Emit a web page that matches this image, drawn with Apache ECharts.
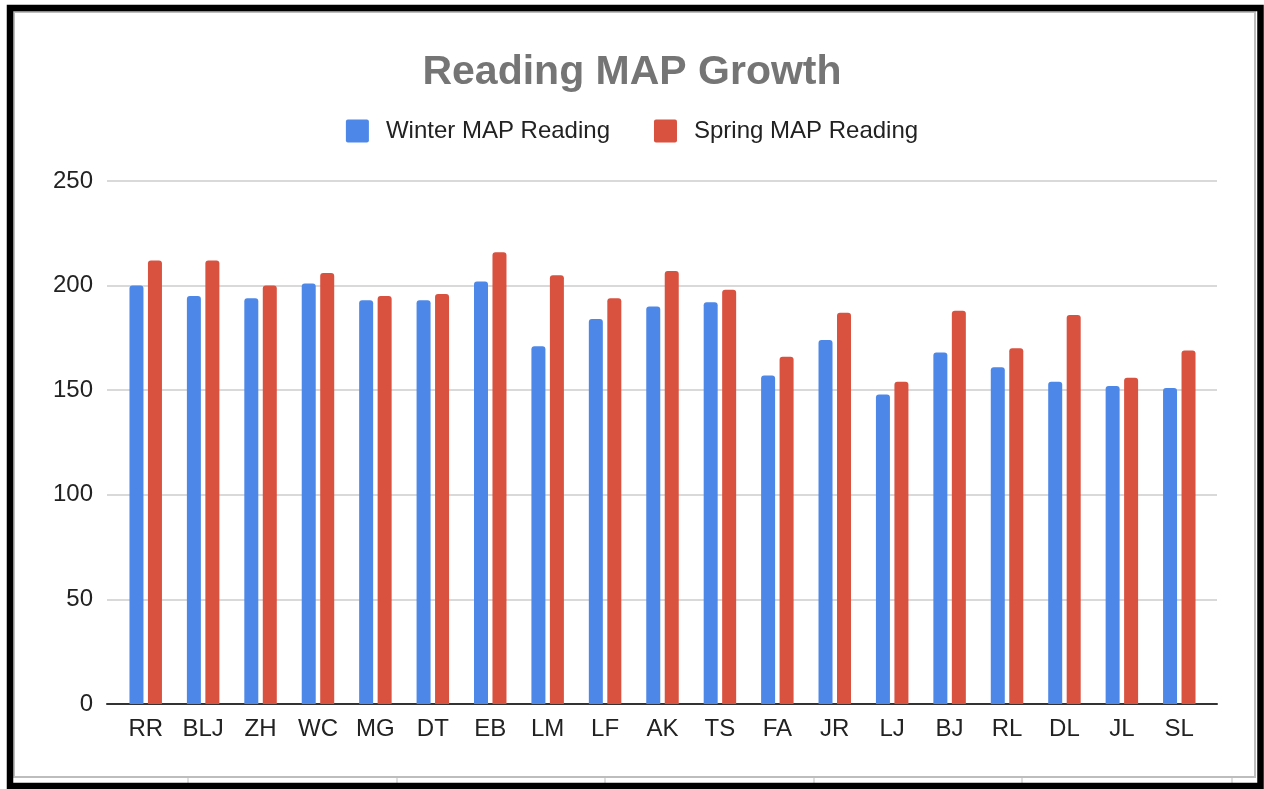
<!DOCTYPE html>
<html>
<head>
<meta charset="utf-8">
<script src="https://cdn.jsdelivr.net/npm/echarts@6/dist/echarts.min.js"></script>
<style>
	html, body { margin: 0; padding: 0; background: #fff; }
	#chart { width: 1264px; height: 789px; }
</style>
</head>
<body>
<div id="chart"></div>
<script>
// student initials along the x axis
const students = ['RR', 'BLJ', 'ZH', 'WC', 'MG', 'DT', 'EB', 'LM', 'LF', 'AK', 'TS', 'FA', 'JR', 'LJ', 'BJ', 'RL', 'DL', 'JL', 'SL']

// scores
const winterScores = [200, 195, 194, 201, 193, 193, 202, 171, 184, 190, 192, 157, 174, 148, 168, 161, 154, 152, 151]
const springScores = [212, 212, 200, 206, 195, 196, 216, 205, 194, 207, 198, 166, 187, 154, 188, 170, 186, 156, 169]

const seriesNames = ['Winter MAP Reading', 'Spring MAP Reading']
const yTicks = [0, 50, 100, 150, 200, 250]

const FONT = 'Arial, "Liberation Sans", sans-serif'

chartMain = () => {
	const chart = echarts.init(document.getElementById('chart'))

	// spreadsheet cell lines peeking out under the chart card
	const cellLines = [188, 397, 605, 814, 1022, 1232].map((x) => ({
		type: 'line',
		shape: { x1: x, y1: 778, x2: x, y2: 784 },
		style: { stroke: '#d4d4d4', lineWidth: 1.5 },
		silent: true,
	}))

	const option = {
		backgroundColor: '#fff',
		animation: false,
		title: {
			text: 'Reading MAP Growth',
			left: 'center',
			top: 47,
			textStyle: {
				fontFamily: FONT,
				fontSize: 41,
				fontWeight: 'bold',
				color: '#757575',
				lineHeight: 42,
			},
		},
		legend: {
			data: seriesNames,
			top: 114,
			left: 'center',
			itemWidth: 23,
			itemHeight: 23,
			itemGap: 44,
			icon: 'path://M2,0 L21,0 Q23,0 23,2 L23,21 Q23,23 21,23 L2,23 Q0,23 0,21 L0,2 Q0,0 2,0 Z',
			textStyle: {
				fontFamily: FONT,
				fontSize: 24,
				color: '#222',
				padding: [0, 0, 0, 12],
			},
		},
		grid: [
			// wide grid: gridlines, y labels and the baseline
			{ left: 107, right: 47, top: 181, bottom: 85 },
			// bar grid, padded a little inside the baseline
			{ left: 117, right: 56, top: 181, bottom: 85 },
		],
		xAxis: [
			{
				gridIndex: 0,
				type: 'value',
				min: 0,
				max: 1,
				axisLine: { show: true, lineStyle: { color: '#333', width: 2 } },
				axisTick: { show: false },
				axisLabel: { show: false },
				splitLine: { show: false },
			},
			{
				gridIndex: 1,
				type: 'category',
				data: students,
				axisLine: { show: false },
				axisTick: { show: false },
				axisLabel: {
					fontFamily: FONT,
					fontSize: 24,
					color: '#222',
					margin: 13,
					interval: 0,
				},
			},
		],
		yAxis: [
			{
				gridIndex: 0,
				type: 'value',
				min: yTicks[0],
				max: yTicks[yTicks.length - 1],
				interval: 50,
				axisLine: { show: false },
				axisTick: { show: false },
				axisLabel: {
					fontFamily: FONT,
					fontSize: 24,
					color: '#222',
					margin: 14,
				},
				splitLine: { lineStyle: { color: '#cccccc', width: 1.5 } },
			},
			{
				gridIndex: 1,
				type: 'value',
				min: yTicks[0],
				max: yTicks[yTicks.length - 1],
				show: false,
			},
		],
		series: [
			{
				name: seriesNames[0],
				type: 'bar',
				xAxisIndex: 1,
				yAxisIndex: 1,
				data: winterScores,
				barWidth: 14,
				barGap: '32%',
				itemStyle: { color: '#4d88e9', borderRadius: [3, 3, 0, 0] },
			},
			{
				name: seriesNames[1],
				type: 'bar',
				xAxisIndex: 1,
				yAxisIndex: 1,
				data: springScores,
				barWidth: 14,
				barGap: '32%',
				itemStyle: { color: '#d9513f', borderRadius: [3, 3, 0, 0] },
			},
		],
		graphic: [
			// inner grey edge of the chart card
			{
				type: 'rect',
				shape: { x: 14, y: 12, width: 1241, height: 765 },
				style: { fill: null, stroke: '#bdbdbd', lineWidth: 2 },
				silent: true,
			},
			...cellLines,
			// black outer frame
			{
				type: 'rect',
				shape: { x: 10, y: 8, width: 1250.5, height: 778 },
				style: { fill: null, stroke: '#000', lineWidth: 6.5 },
				silent: true,
			},
		],
	}

	chart.setOption(option)
}

chartMain()
</script>
</body>
</html>
